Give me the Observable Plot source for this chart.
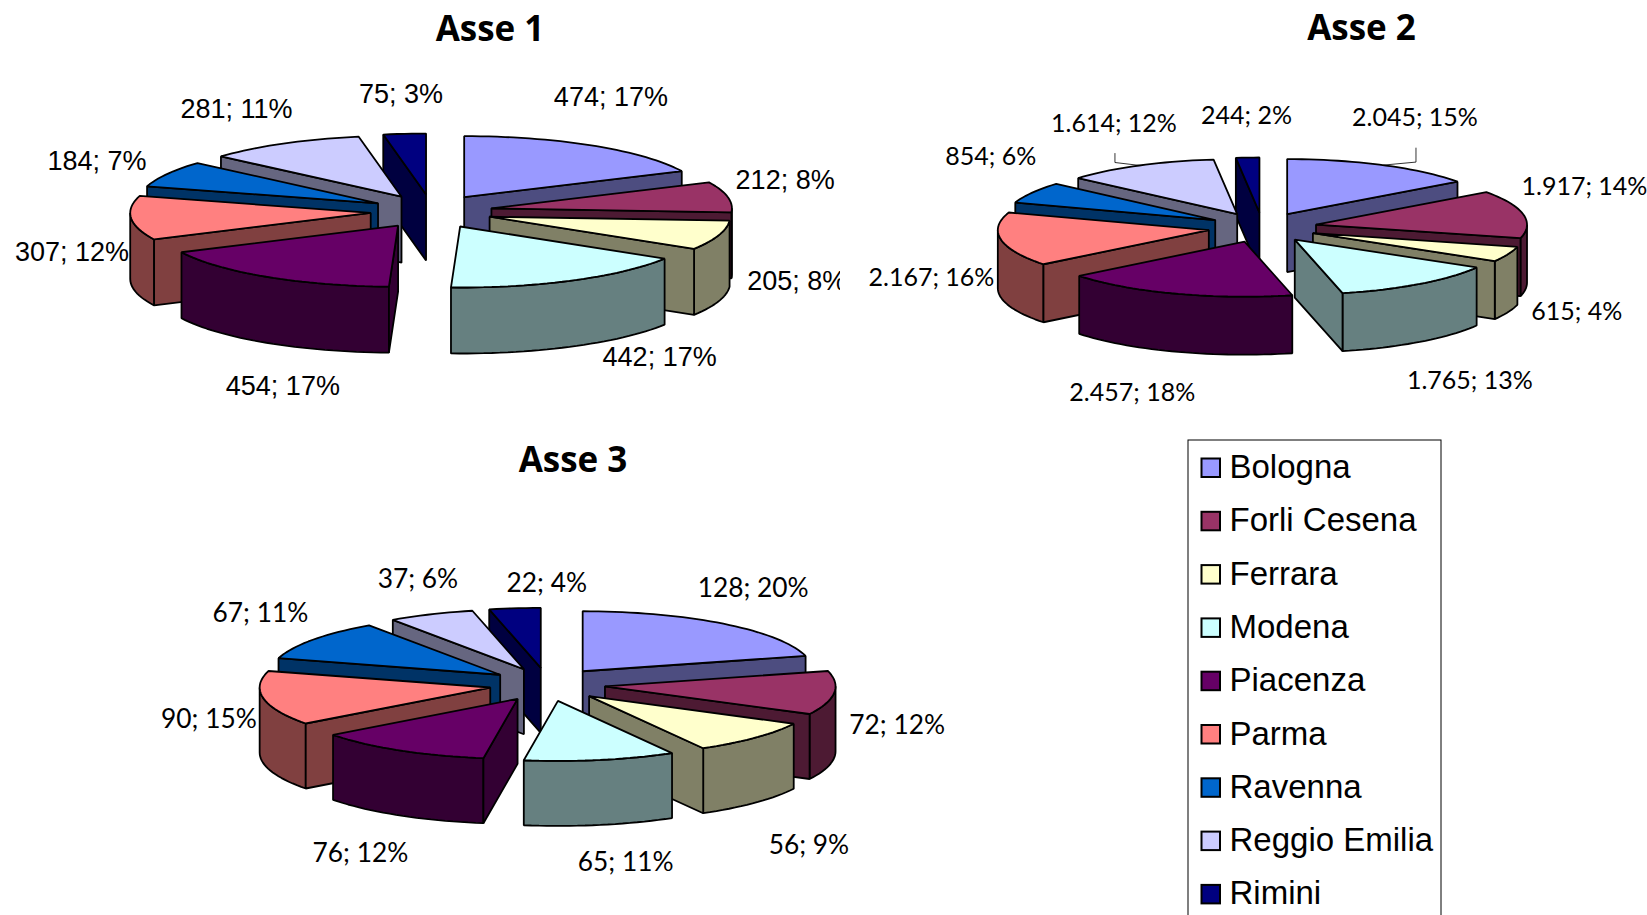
<!DOCTYPE html>
<html><head><meta charset="utf-8">
<style>html,body{margin:0;padding:0;background:#fff;overflow:hidden}svg{display:block}</style>
<script src="https://cdn.jsdelivr.net/npm/d3@7"></script>
<script src="https://cdn.jsdelivr.net/npm/@observablehq/plot@0.6"></script>
</head><body><div id="chart"></div>
<script>
const cities = ["Bologna","Forli Cesena","Ferrara","Modena","Piacenza","Parma","Ravenna","Reggio Emilia","Rimini"];
const colors = ["#9999FF","#993366","#FFFFCC","#CCFFFF","#660066","#FF8080","#0066CC","#CCCCFF","#000080"];
const valuesAsse1 = [474,212,205,442,454,307,184,281,75];
const valuesAsse2 = [2045,1917,615,1765,2457,2167,854,1614,244];
const valuesAsse3 = [128,72,56,65,76,90,67,37,22];
const percentAsse1 = [17,8,8,17,17,12,7,11,3];
const percentAsse2 = [15,14,4,13,18,16,6,12,2];
const percentAsse3 = [20,12,9,11,12,15,11,6,4];

// Layout of each exploded pie; nudges move a label from the slice's rim.
const layouts = [
  {title:"Asse 1", values:valuesAsse1, percent:percentAsse1, cx:431, cy:211, ex:61, ey:17, rx:240.5, ry:61, depth:66,
   titleX:489.5, titleY:29.4, font:"Liberation Sans", size:27, leaders:[],
   nudges:[[17.9,-48],[57.4,-17],[78.2,46.5],[86.5,77],[16.5,109.5],[-59,34.5],[-70.2,-12.7],[-46.7,-34],[-3.5,-39.5]]},
  {title:"Asse 2", values:valuesAsse2, percent:percentAsse2, cx:1262, cy:227, ex:54.5, ey:15, rx:211, ry:55, depth:58,
   titleX:1361, titleY:28.4, font:"Lato", size:25, leaders:["Bologna","Reggio Emilia"],
   nudges:[[32.3,-47],[61.3,-27.6],[68.7,58],[50.2,97],[-42.7,99],[-69.5,38],[-41.5,-35.5],[-25.3,-42],[-1.2,-41.5]]},
  {title:"Asse 3", values:valuesAsse3, percent:percentAsse3, cx:546.8, cy:684, ex:58, ey:16.7, rx:230.6, ry:60, depth:65,
   titleX:572.5, titleY:460, font:"Lato", size:26.3, leaders:[],
   nudges:[[29.8,-34.7],[63,32.8],[53.6,108.3],[25.4,102.8],[-39,103.4],[-54.5,20.8],[-52.5,-26.2],[-13,-35.2],[32,-25.2]]}
];
// Painter's order, back to front.
const paintOrder = ["Bologna","Rimini","Reggio Emilia","Ravenna","Forli Cesena","Parma","Ferrara","Piacenza","Modena"];

const rad = d => d * Math.PI / 180;
const half = c => { const k = d3.rgb(c); return d3.rgb(k.r/2, k.g/2, k.b/2).formatHex(); };
const group = d3.formatLocale({decimal:",",thousands:".",grouping:[3],currency:["€",""]}).format(",");

const faces = [], labels = [], leaders = [];
layouts.forEach((p, pi) => {
  const total = d3.sum(p.values);
  const ends = Array.from(d3.cumsum(p.values), v => v / total * 360);
  const slices = cities.map((city, i) => {
    const a0 = i ? ends[i-1] : 0, a1 = ends[i], m = (a0 + a1) / 2;
    const ax = p.cx + p.ex * Math.sin(rad(m)), ay = p.cy - p.ey * Math.cos(rad(m));
    const rim = a => [ax + p.rx * Math.sin(rad(a)), ay - p.ry * Math.cos(rad(a))];
    return {city, color:colors[i], a0, a1, m, ax, ay, rim, i};
  });
  const addFace = (key, color, pts) => pts.forEach(([x,y]) => faces.push({key, color, x, y}));
  const arc = (s, a0, a1) => { const n = Math.max(2, Math.ceil((a1-a0)/2)); return d3.range(n+1).map(k => s.rim(a0 + (a1-a0)*k/n)); };
  const drop = pts => pts.map(([x,y]) => [x, y + p.depth]);

  paintOrder.forEach(name => {
    const s = slices.find(d => d.city === name), wall = half(s.color), key = `${pi}-${name}`;
    const apex = [s.ax, s.ay];
    const f0 = Math.max(s.a0, 90), f1 = Math.min(s.a1, 270);
    if (f1 > f0) { const t = arc(s, f0, f1); addFace(key+"-arc", wall, [...t, ...drop(t).reverse()]); }
    if (Math.sin(rad(s.a0)) < -1e-6) { const t = [apex, s.rim(s.a0)]; addFace(key+"-w0", wall, [...t, ...drop(t).reverse()]); }
    if (Math.sin(rad(s.a1)) > 1e-6) { const t = [apex, s.rim(s.a1)]; addFace(key+"-w1", wall, [...t, ...drop(t).reverse()]); }
    addFace(key+"-top", s.color, [apex, ...arc(s, s.a0, s.a1)]);
  });

  slices.forEach(s => {
    const [rx0, ry0] = s.rim(s.m);
    const [dx, dy] = p.nudges[s.i];
    const lx = rx0 + dx, ly = ry0 + dy;
    labels.push({text:`${group(p.values[s.i])}; ${p.percent[s.i]}%`, x:lx, y:ly, font:p.font, size:p.size, pie:pi});
    if (p.leaders.includes(s.city)) {
      const key = `${pi}-${s.city}`;
      [[lx+1, ly+30],[lx+1, ry0-3],[rx0+1, ry0]].forEach(([x,y]) => leaders.push({key, x, y}));
    }
  });
});

// Legend
const legendLeft = 1188, legendRight = 1441, legendTop = 440, rowStart = 467, rowStep = 53.3;
const legendRows = cities.map((city,i) => ({city, color:colors[i], y:rowStart + i*rowStep}));

const textMark = (pi, font, size) => Plot.text(labels.filter(d => d.pie === pi), {
  x:"x", y:"y", text:"text", fontFamily:font, fontSize:size, fill:"#000", lineAnchor:"middle", textAnchor:"middle"
});

const plot = Plot.plot({
  width:1647, height:915, margin:0,
  x:{domain:[0,1647], range:[0,1647], axis:null},
  y:{domain:[0,915], range:[0,915], axis:null},
  style:{background:"#fff"},
  marks:[
    Plot.line(faces, {x:"x", y:"y", z:"key", fill:"color", stroke:"#000", strokeWidth:1.8, curve:"linear-closed", strokeLinejoin:"miter"}),
    Plot.line(leaders, {x:"x", y:"y", z:"key", stroke:"#000", strokeWidth:0.8, strokeLinejoin:"miter"}),
    ...layouts.map((p,i) => textMark(i, p.font, p.size)),
    // the reference cuts this label off at its chart's right edge
    Plot.rect([{}], {x1:()=>840, x2:()=>862, y1:()=>262, y2:()=>302, fill:"#fff"}),
    Plot.text(layouts, {x:"titleX", y:"titleY", text:"title", fontFamily:"Open Sans", fontWeight:700, fontSize:35, fill:"#000", lineAnchor:"middle"}),
    Plot.rect([{}], {x1:()=>legendLeft, x2:()=>legendRight, y1:()=>legendTop, y2:()=>930, fill:"#fff", stroke:"#000", strokeWidth:1}),
    Plot.rect(legendRows, {x1:()=>1201.5, x2:()=>1220, y1:d=>d.y-8.5, y2:d=>d.y+10, fill:"color", stroke:"#000", strokeWidth:2}),
    Plot.text(legendRows, {x:()=>1229, y:"y", text:"city", textAnchor:"start", lineAnchor:"middle", fontFamily:"Liberation Sans", fontSize:33, fill:"#000"})
  ]
});
document.getElementById("chart").append(plot);
</script>
</body></html>
